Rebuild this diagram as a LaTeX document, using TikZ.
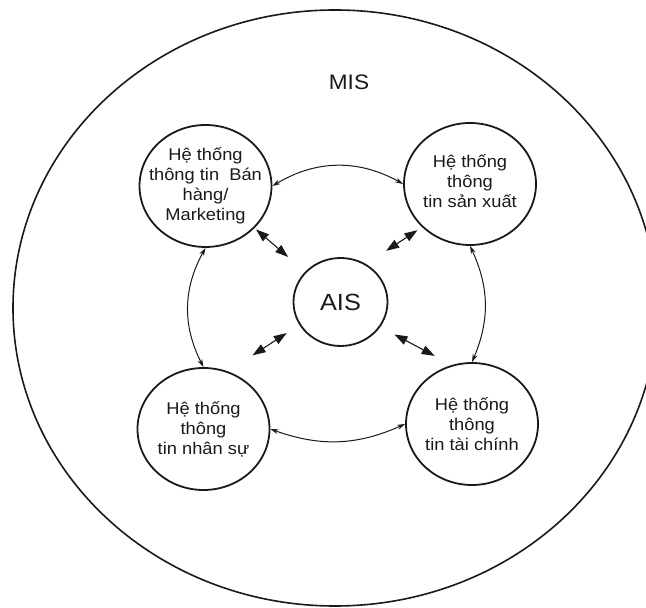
\documentclass[tikz,border=0pt]{standalone}
\usepackage{fontspec}
\setmainfont{Liberation Sans}[FakeStretch=1.08]
\usetikzlibrary{shapes.geometric,arrows.meta}
\definecolor{ink}{HTML}{1A1A1A}
\begin{document}
\begin{tikzpicture}[x=1bp,y=1bp,
  sub/.style={ellipse, draw=ink, line width=1.8bp, minimum width=132bp, minimum height=122bp, inner sep=0pt},
  subtext/.style={align=center, font=\fontsize{17}{20}\selectfont, text=ink, inner sep=0pt},
  arcarrow/.style={{Stealth[length=8bp,width=5bp]}-{Stealth[length=8bp,width=5bp]}, line width=1bp, draw=ink},
  dblarrow/.style={{Triangle[length=13bp,width=9bp]}-{Triangle[length=13bp,width=9bp]}, line width=1.1bp, draw=ink}]
\useasboundingbox (0,0) rectangle (646,608);
\fill[white] (0,0) rectangle (646,608);
% outer MIS ellipse
\node[ellipse, draw=ink, line width=1.6bp, minimum width=644bp, minimum height=596bp, inner sep=0pt] (mis) at (335,300) {};
\node[font=\fontsize{21}{25}\selectfont, text=ink] (mislabel) at (349,526) {MIS};
% AIS
\node[ellipse, draw=ink, line width=1.8bp, minimum width=94bp, minimum height=88bp, inner sep=0pt, font=\fontsize{23.5}{28}\selectfont, text=ink] (ais) at (340.5,306) {AIS};
% sub systems
\node[sub] (tl) at (205.5,422) {};
\node[subtext] (tltext) at (tl) {Hệ thống\\thông tin~ Bán\\hàng/\\Marketing};
\node[sub] (tr) at (470,424) {};
\node[subtext] (trtext) at ([yshift=3bp]tr.center) {Hệ thống\\thông\\tin sản xuất};
\node[sub] (bl) at (203.5,179) {};
\node[subtext] (bltext) at (bl) {Hệ thống\\thông\\tin nhân sự};
\node[sub] (br) at (472,184) {};
\node[subtext] (brtext) at (br) {Hệ thống\\thông\\tin tài chính};
% arcs between subsystems
\draw[arcarrow] (tl.east) to[bend left=30] (tr.west);
\draw[arcarrow] (tr.south) to[bend left=24] (br.north);
\draw[arcarrow] (bl.east) to[bend right=22] (br.west);
\draw[arcarrow] (tl.south) to[bend right=28] (bl.north);
% double arrows with AIS
\draw[dblarrow, shorten <=22.5bp, shorten >=2bp] (ais) -- (tl);
\draw[dblarrow, shorten <=24bp, shorten >=5.5bp] (ais.56) -- (tr.222);
\draw[dblarrow, shorten <=15bp, shorten >=29.4bp] (ais.209) -- (bl.67);
\draw[dblarrow, shorten <=16bp, shorten >=19.3bp] (ais.-32) -- (br.109);
\end{tikzpicture}
\end{document}
